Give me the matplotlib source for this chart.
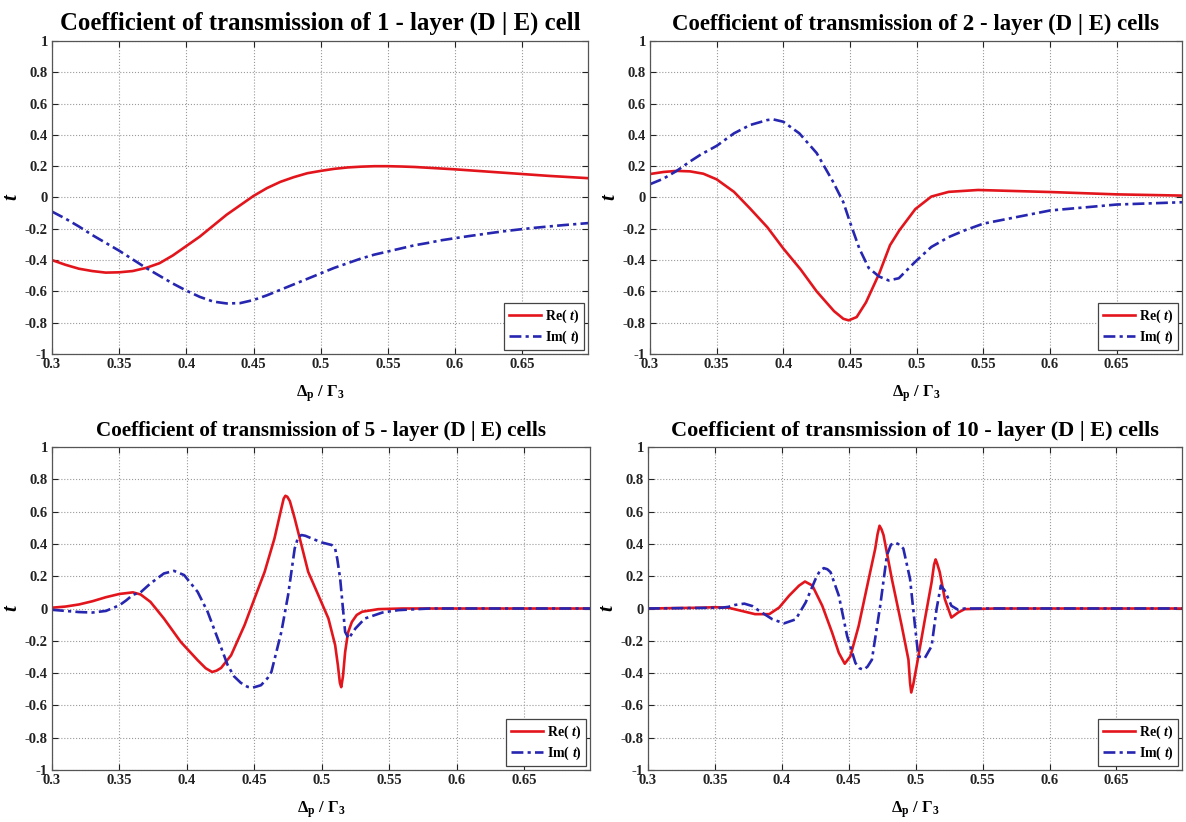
import matplotlib
matplotlib.use("Agg")
import matplotlib.pyplot as plt

plt.rcParams['font.family'] = ['Liberation Serif', 'DejaVu Serif']
plt.rcParams['font.weight'] = 'bold'
plt.rcParams['mathtext.fontset'] = 'custom'
plt.rcParams['mathtext.rm'] = 'Liberation Serif:bold'
plt.rcParams['mathtext.bf'] = 'Liberation Serif:bold'
plt.rcParams['mathtext.it'] = 'Liberation Serif:italic:bold'

# ---- 1-layer cell ----
x1 = [0.30, 0.31, 0.32, 0.33, 0.34, 0.35, 0.36, 0.37, 0.38, 0.39, 0.40, 0.41,
      0.42, 0.43, 0.44, 0.45, 0.46, 0.47, 0.48, 0.49, 0.50, 0.51, 0.52, 0.53,
      0.54, 0.55, 0.56, 0.57, 0.58, 0.59, 0.60, 0.61, 0.62, 0.63, 0.64, 0.65,
      0.66, 0.67, 0.68, 0.69, 0.70]
re1 = [-0.40, -0.43, -0.455, -0.47, -0.48, -0.478, -0.47, -0.45, -0.42, -0.37,
       -0.31, -0.25, -0.18, -0.11, -0.05, 0.01, 0.06, 0.10, 0.13, 0.155, 0.17,
       0.183, 0.192, 0.197, 0.20, 0.20, 0.198, 0.195, 0.19, 0.185, 0.18, 0.174,
       0.168, 0.162, 0.156, 0.15, 0.144, 0.138, 0.133, 0.128, 0.123]
im1 = [-0.09, -0.135, -0.185, -0.24, -0.29, -0.34, -0.395, -0.45, -0.50, -0.55,
       -0.595, -0.635, -0.665, -0.677, -0.675, -0.655, -0.625, -0.59, -0.555,
       -0.52, -0.485, -0.45, -0.42, -0.39, -0.365, -0.345, -0.325, -0.305, -0.29,
       -0.273, -0.26, -0.247, -0.235, -0.223, -0.212, -0.202, -0.193, -0.185,
       -0.177, -0.17, -0.163]

# ---- 2-layer cells ----
x2_re = [0.30, 0.31, 0.32, 0.33, 0.34, 0.35, 0.363, 0.375, 0.388, 0.40, 0.413,
         0.425, 0.438, 0.445, 0.449, 0.455, 0.462, 0.472, 0.48, 0.487, 0.499,
         0.511, 0.524, 0.546, 0.60, 0.65, 0.70]
re2 = [0.15, 0.163, 0.17, 0.167, 0.152, 0.116, 0.036, -0.07, -0.19, -0.326,
       -0.46, -0.60, -0.726, -0.775, -0.785, -0.764, -0.67, -0.484, -0.305,
       -0.21, -0.074, 0.006, 0.036, 0.048, 0.035, 0.02, 0.012]
x2_im = [0.30, 0.31, 0.32, 0.33, 0.338, 0.35, 0.363, 0.375, 0.388, 0.3925, 0.40,
         0.412, 0.425, 0.437, 0.445, 0.45, 0.457, 0.464, 0.4718, 0.479, 0.4866,
         0.499, 0.511, 0.524, 0.536, 0.55, 0.60, 0.65, 0.70]
im2 = [0.085, 0.12, 0.17, 0.23, 0.274, 0.33, 0.41, 0.463, 0.495, 0.499, 0.484,
       0.41, 0.284, 0.105, -0.03, -0.158, -0.326, -0.45, -0.505, -0.53, -0.516,
       -0.41, -0.316, -0.253, -0.21, -0.167, -0.083, -0.045, -0.03]

# ---- 5-layer cells ----
x5_re = [0.30, 0.31, 0.32, 0.33, 0.34, 0.35, 0.36, 0.3657, 0.373, 0.383, 0.3955,
         0.408, 0.414, 0.4187, 0.422, 0.4254, 0.4328, 0.4428, 0.4502, 0.4577,
         0.465, 0.4701, 0.4718, 0.4731, 0.4745, 0.4764, 0.480, 0.485, 0.490,
         0.4975, 0.505, 0.51, 0.512, 0.5135, 0.5145, 0.5158, 0.5174, 0.5195,
         0.5224, 0.526, 0.53, 0.542, 0.56, 0.70]
re5 = [0.005, 0.012, 0.025, 0.045, 0.07, 0.09, 0.10, 0.087, 0.041, -0.062,
       -0.207, -0.32, -0.37, -0.393, -0.385, -0.368, -0.29, -0.103, 0.062,
       0.227, 0.434, 0.62, 0.68, 0.698, 0.692, 0.665, 0.558, 0.393, 0.227,
       0.083, -0.062, -0.227, -0.35, -0.46, -0.487, -0.42, -0.27, -0.15,
       -0.083, -0.04, -0.02, -0.004, 0.0, 0.0]
x5_im = [0.30, 0.31, 0.32, 0.33, 0.34, 0.35, 0.355, 0.36, 0.3657, 0.373, 0.383,
         0.3905, 0.398, 0.408, 0.4154, 0.4229, 0.4303, 0.435, 0.44, 0.445, 0.449,
         0.455, 0.46, 0.4627, 0.4701, 0.4751, 0.48, 0.4825, 0.485, 0.488,
         0.4925, 0.50, 0.5075, 0.510, 0.5115, 0.5137, 0.5174, 0.52, 0.525,
         0.532, 0.545, 0.557, 0.58, 0.70]
im5 = [-0.008, -0.015, -0.022, -0.025, -0.015, 0.02, 0.05, 0.085, 0.10, 0.155,
       0.217, 0.233, 0.207, 0.103, -0.02, -0.186, -0.351, -0.42, -0.46, -0.485,
       -0.49, -0.475, -0.43, -0.393, -0.145, 0.083, 0.372, 0.44, 0.455, 0.45,
       0.434, 0.409, 0.393, 0.37, 0.31, 0.186, -0.145, -0.186, -0.124, -0.062,
       -0.025, -0.01, 0.0, 0.0]

# ---- 10-layer cells ----
x10_re = [0.30, 0.34, 0.35, 0.36, 0.37, 0.38, 0.3906, 0.398, 0.4054, 0.4129,
          0.4173, 0.4228, 0.4302, 0.4376, 0.4426, 0.447, 0.4512, 0.4574, 0.4649,
          0.4698, 0.4715, 0.473, 0.4745, 0.476, 0.4822, 0.4896, 0.4946, 0.4958,
          0.4967, 0.4982, 0.5007, 0.5069, 0.5119, 0.5137, 0.5149, 0.516, 0.518,
          0.5218, 0.5267, 0.5317, 0.5366, 0.56, 0.70]
re10 = [0.0, 0.005, 0.008, 0.005, -0.015, -0.035, -0.035, 0.006, 0.079, 0.142,
        0.167, 0.142, 0.017, -0.15, -0.275, -0.342, -0.296, -0.108, 0.183,
        0.371, 0.46, 0.5125, 0.49, 0.454, 0.183, -0.108, -0.317, -0.46, -0.52,
        -0.47, -0.358, -0.067, 0.1625, 0.27, 0.304, 0.28, 0.225, 0.058, -0.056,
        -0.025, -0.004, 0.0, 0.0]
x10_im = [0.30, 0.355, 0.36, 0.365, 0.372, 0.378, 0.3832, 0.393, 0.4017, 0.4104,
          0.4178, 0.4252, 0.4285, 0.4314, 0.434, 0.4364, 0.4426, 0.4488, 0.455,
          0.458, 0.4611, 0.464, 0.4673, 0.4735, 0.4785, 0.4815, 0.4847, 0.488,
          0.4908, 0.4958, 0.4995, 0.502, 0.5069, 0.5119, 0.5156, 0.5188, 0.5218,
          0.5267, 0.5317, 0.5366, 0.56, 0.70]
im10 = [0.0, 0.005, 0.01, 0.022, 0.03, 0.015, -0.015, -0.067, -0.092, -0.067,
        0.0375, 0.183, 0.235, 0.25, 0.243, 0.225, 0.079, -0.171, -0.3375,
        -0.37, -0.379, -0.36, -0.317, 0.017, 0.329, 0.395, 0.408, 0.395, 0.371,
        0.183, -0.108, -0.296, -0.306, -0.233, -0.004, 0.142, 0.11, 0.017,
        -0.008, 0.0, 0.0, 0.0]

titles = [
    "Coefficient of transmission of 1 - layer (D | E) cell",
    "Coefficient of transmission of 2 - layer (D | E) cells",
    "Coefficient of transmission of 5 - layer (D | E) cells",
    "Coefficient of transmission of 10 - layer (D | E) cells",
]
title_sizes = [17.8, 16.4, 15.2, 16.0]
panels = [
    (x1, re1, x1, im1),
    (x2_re, re2, x2_im, im2),
    (x5_re, re5, x5_im, im5),
    (x10_re, re10, x10_im, im10),
]
xticks = [0.3, 0.35, 0.4, 0.45, 0.5, 0.55, 0.6, 0.65]
xticklabels = ["0.3", "0.35", "0.4", "0.45", "0.5", "0.55", "0.6", "0.65"]
yticks = [-1, -0.8, -0.6, -0.4, -0.2, 0, 0.2, 0.4, 0.6, 0.8, 1]
yticklabels = ["-1", "-0.8", "-0.6", "-0.4", "-0.2", "0", "0.2", "0.4", "0.6",
               "0.8", "1"]

W, H = 1186, 822
fig = plt.figure(figsize=(W / 100, H / 100), dpi=100)
boxes = [
    (52, 588, 41, 354),
    (650, 1182, 41, 354),
    (52, 590, 447, 770),
    (648, 1182, 447, 770),
]

red = '#e3151c'
blue = '#2626b0'

for (l, r, t, b), title, tsize, (xr, yr, xi, yi) in zip(boxes, titles,
                                                        title_sizes, panels):
    ax = fig.add_axes([l / W, 1 - b / H, (r - l) / W, (b - t) / H])
    ax.plot(xr, yr, color=red, lw=1.9, solid_joinstyle='round',
            label=r"Re( $\mathit{t}$)")
    ax.plot(xi, yi, color=blue, lw=1.9, linestyle=(0, (4.5, 1.6, 1.2, 1.6)),
            label=r"Im( $\mathit{t}$)")
    ax.set_xlim(0.3, 0.699)
    ax.set_ylim(-1, 1)
    ax.set_xticks(xticks)
    ax.set_xticklabels(xticklabels)
    ax.set_yticks(yticks)
    ax.set_yticklabels(yticklabels)
    ax.tick_params(direction='in', top=True, right=True, length=4, width=0.8,
                   labelsize=10.5, pad=3, colors='#222222')
    for lab in ax.get_xticklabels() + ax.get_yticklabels():
        lab.set_fontweight('bold')
    ax.grid(True, linestyle=':', color='#9a9a9a', linewidth=0.8)
    for s in ax.spines.values():
        s.set_color('#555555')
        s.set_linewidth(0.9)
    ax.set_title(title, fontsize=tsize, fontweight='bold', pad=8)
    ax.set_xlabel(r"$\mathbf{\Delta_p\ /\ \Gamma_3}$", fontsize=12, labelpad=9)
    ax.set_ylabel("t", fontsize=15, fontstyle='italic', fontweight='bold')
    ax.yaxis.set_label_coords(-31 / (r - l), 0.5)
    leg = ax.legend(loc='lower right', fontsize=10, handlelength=2.3,
                    handletextpad=0.3, borderpad=0.3, labelspacing=0.25,
                    fancybox=False, framealpha=1, borderaxespad=0.3)
    leg.get_frame().set_edgecolor('#444444')
    leg.get_frame().set_linewidth(0.9)
    for txt in leg.get_texts():
        txt.set_fontweight('bold')

fig.savefig("out.png", dpi=100)
